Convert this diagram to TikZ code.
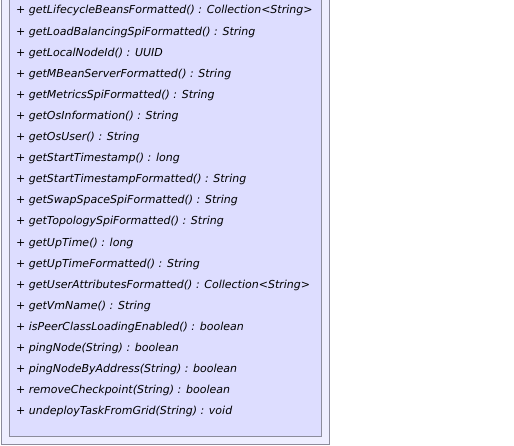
\documentclass[tikz,border=0pt]{standalone}
\usepackage{fontspec}
\setmainfont{DejaVu Sans}
\definecolor{outerfill}{HTML}{EEEEFF}
\definecolor{innerfill}{HTML}{DDDDFF}
\definecolor{boxline}{HTML}{8C8C9C}
\begin{document}
\begin{tikzpicture}[x=1pt,y=-1pt,
  outerbox/.style={draw=boxline, fill=outerfill, line width=0.9pt},
  innerbox/.style={draw=boxline, fill=innerfill, line width=0.9pt},
  member/.style={anchor=base west, inner sep=0pt, font=\fontsize{11}{13}\selectfont\itshape, text=black}]
\useasboundingbox (0,0) rectangle (514,446);
\path[outerbox] (1,-10) rectangle (329.5,444);
\path[innerbox] (9,-10) rectangle (321.5,436);
\foreach \t [count=\i from 0] in {
 {+ getLifecycleBeansFormatted() : Collection<String>},
 {+ getLoadBalancingSpiFormatted() : String},
 {+ getLocalNodeId() : UUID},
 {+ getMBeanServerFormatted() : String},
 {+ getMetricsSpiFormatted() : String},
 {+ getOsInformation() : String},
 {+ getOsUser() : String},
 {+ getStartTimestamp() : long},
 {+ getStartTimestampFormatted() : String},
 {+ getSwapSpaceSpiFormatted() : String},
 {+ getTopologySpiFormatted() : String},
 {+ getUpTime() : long},
 {+ getUpTimeFormatted() : String},
 {+ getUserAttributesFormatted() : Collection<String>},
 {+ getVmName() : String},
 {+ isPeerClassLoadingEnabled() : boolean},
 {+ pingNode(String) : boolean},
 {+ pingNodeByAddress(String) : boolean},
 {+ removeCheckpoint(String) : boolean},
 {+ undeployTaskFromGrid(String) : void}}
 \node[member] (m\i) at (16, {14+21.1*\i}) {\t};
\end{tikzpicture}
\end{document}
